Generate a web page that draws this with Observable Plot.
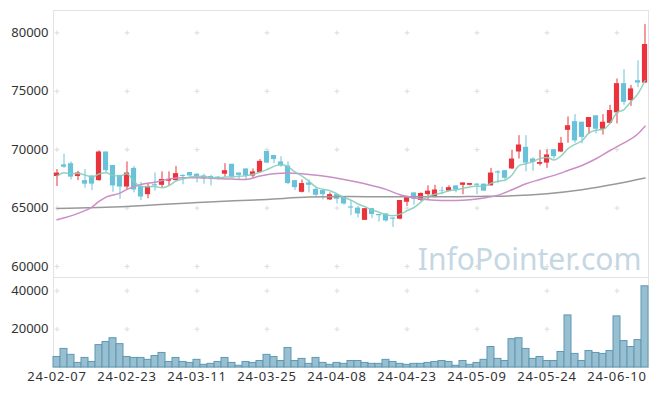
<!DOCTYPE html>
<html>
<head>
<meta charset="utf-8">
<script src="https://cdn.jsdelivr.net/npm/d3@7"></script>
<script src="https://cdn.jsdelivr.net/npm/@observablehq/plot@0.6"></script>
<style>
  html, body { margin: 0; padding: 0; background: #fff; }
  #chart svg { display: block; }
  #chart g[aria-label="x-axis tick label"] text { letter-spacing: 0.8px; }
</style>
</head>
<body>
<div id="chart"></div>
<script>
// trading dates (YY-MM-DD)
const dates = ("24-02-07 24-02-08 24-02-13 24-02-14 24-02-15 24-02-16 24-02-19 24-02-20 24-02-21 24-02-22 " +
  "24-02-23 24-02-26 24-02-27 24-02-28 24-02-29 24-03-04 24-03-05 24-03-06 24-03-07 24-03-08 " +
  "24-03-11 24-03-12 24-03-13 24-03-14 24-03-15 24-03-18 24-03-19 24-03-20 24-03-21 24-03-22 " +
  "24-03-25 24-03-26 24-03-27 24-03-28 24-03-29 24-04-01 24-04-02 24-04-03 24-04-04 24-04-05 " +
  "24-04-08 24-04-09 24-04-11 24-04-12 24-04-15 24-04-16 24-04-17 24-04-18 24-04-19 24-04-22 " +
  "24-04-23 24-04-24 24-04-25 24-04-26 24-04-29 24-04-30 24-05-02 24-05-03 24-05-07 24-05-08 " +
  "24-05-09 24-05-10 24-05-13 24-05-14 24-05-16 24-05-17 24-05-20 24-05-21 24-05-22 24-05-23 " +
  "24-05-24 24-05-27 24-05-28 24-05-29 24-05-30 24-05-31 24-06-03 24-06-04 24-06-05 24-06-07 " +
  "24-06-10 24-06-11 24-06-12 24-06-13 24-06-14").split(" ");

const open = [67700,68700,68800,67700,67350,67750,67350,69800,68650,67800,
  66800,68400,66850,66150,67000,66950,67300,67350,67800,68050,
  67900,67750,67700,67650,67900,68750,68000,68350,67750,68050,
  69850,69500,68950,68600,67350,66350,67150,66600,66500,65700,
  66150,65950,65100,65000,63950,64950,64450,64500,64150,64050,
  65500,66300,65650,66150,65900,66500,66450,66900,66950,66950,
  67050,67050,66900,68100,68200,68350,69800,70200,69200,68750,
  68850,70000,69800,71650,72400,72350,71900,72900,71750,72250,
  73150,75650,74200,75900,75700];
const high = [68300,69600,68950,68150,68300,67750,69900,69800,68650,67800,
  68950,68550,67200,67100,68000,68100,68100,68550,67850,68050,
  67950,67900,67800,67700,68800,68750,68000,68350,68350,69150,
  69850,69500,69400,68950,67350,67400,67400,66800,66500,66300,
  66150,65950,65650,65150,64950,64950,64450,64500,64150,65650,
  66000,66300,66300,66900,66950,66800,66900,66900,67150,67100,
  67100,67050,68400,68200,68200,69950,71200,71200,69300,69950,
  69950,70000,71050,72800,73000,72350,72750,72900,73000,73800,
  76050,76850,75500,77600,80700];
const low = [66850,68400,67400,67350,66700,66500,67300,68000,66350,65750,
  66500,66300,65650,65800,66450,66750,66900,67350,67000,67650,
  67150,67050,66900,67400,67650,67550,67350,67400,67500,68000,
  68800,68800,68500,67000,66500,66300,66300,65900,65700,65650,
  65350,65250,64350,64150,63950,64100,63800,63800,63350,64000,
  65150,65250,65550,65700,65900,66150,66400,66300,66150,66900,
  66150,66450,66900,67100,67400,68300,69200,68100,68150,68600,
  68400,69200,69750,70550,70550,70500,71300,71350,71250,72200,
  72200,73800,73700,75300,75700];
const close = [68000,68500,67650,68000,67050,67050,69800,68200,66900,66800,
  68000,66550,65950,66850,66900,67450,67450,67950,67700,67750,
  67650,67500,67500,67450,68200,67650,67800,67750,68100,69000,
  68850,69150,68600,67100,66750,67100,66950,66100,66150,66150,
  65750,65350,65000,64500,64950,64450,64350,63900,64050,65650,
  65900,65750,66250,66450,66550,66450,66750,66550,67150,67100,
  66950,66450,68000,68000,67550,69200,70400,68850,68900,68900,
  69550,69400,70550,72050,70750,71050,72750,71750,72350,73350,
  75650,74050,75200,75700,79000];
const volume = [5500,9700,6600,2400,5000,2900,11700,13300,15300,12200,
  5500,5000,5000,4000,6000,7600,2900,5000,2900,2400,
  4000,1400,1900,2900,5000,2400,900,2900,2400,3400,
  6600,5500,3400,10200,3400,4500,1900,5000,2400,1400,
  2400,1900,3400,3400,2400,1900,1900,4000,2900,1900,
  1400,1900,1900,2400,2900,3400,2900,900,3400,1400,
  2400,4000,10700,4500,3400,14800,15300,9700,4500,5500,
  3400,3400,8100,27200,7100,3400,8600,7600,7100,8600,
  26700,13800,10700,14300,42400];

// moving averages
const ma5 = [67740,68020,67950,67950,67840,67650,67910,68020,67800,67750,
  67940,67290,66840,66830,66850,66740,66920,67320,67490,67660,
  67700,67710,67620,67570,67660,67660,67720,67770,67900,68060,
  68300,68570,68740,68540,68090,67740,67300,66800,66610,66490,
  66220,65900,65680,65350,65110,64850,64650,64430,64340,64480,
  64770,65050,65520,66000,66180,66290,66490,66550,66690,66800,
  66900,66840,67130,67300,67390,67840,68630,68800,68980,69250,
  69320,69120,69460,70090,70460,70760,71430,71670,71730,72250,
  73170,73430,74120,74790,75920];
const ma20Idx = [0,3,5,6,7,9,10,12,14,16,18,20,22,25,27,29,31,33,35,38,41,44,47,49,51,53,55,57,59,61,63,65,67,69,71,73,75,77,79,81,83,84];
const ma20Val = [64000,64550,65085,65570,65940,66280,66600,67020,67220,67500,67590,67590,67560,67480,67450,67740,67940,68000,67940,67740,67450,67080,66600,66140,65880,65710,65660,65660,65710,65860,66110,66570,67080,67450,67800,68220,68650,69220,69930,70580,71360,72010];
const ma60Idx = [0,10,21,30,36,42,48,55,60,65,70,75,80,84];
const ma60Val = [64970,65140,65510,65740,65940,66000,65960,65960,66000,66050,66230,66570,67080,67570];

const priceTicks = [60000,65000,70000,75000,80000];
const volTicks = [20000,40000];
const xTickIdx = [0,10,20,30,40,50,60,70,80];

const UP = "#e9343d", DOWN = "#69c2d9";
const bars = dates.map((d, i) => ({i, date: d, o: open[i], h: high[i], l: low[i], c: close[i], v: volume[i], ma5: ma5[i]}));
const col = d => d.c >= d.o ? UP : DOWN;
const ma20 = ma20Idx.map((i, k) => ({i, v: ma20Val[k]}));
const ma60 = ma60Idx.map((i, k) => ({i, v: ma60Val[k]}));
const gridPrice = xTickIdx.flatMap(i => priceTicks.map(p => ({i, p})));
const gridVol = xTickIdx.flatMap(i => volTicks.map(p => ({i, p})));

const FONT = "'Noto Sans', sans-serif";
const xDomain = [-0.5, dates.length - 0.5];

const price = Plot.plot({
  width: 657, height: 277,
  marginTop: 10, marginBottom: 0, marginLeft: 53, marginRight: 9,
  style: {fontFamily: FONT, fontSize: "13px", color: "#333", background: "transparent"},
  x: {domain: xDomain, axis: null},
  y: {domain: [59060, 81910], axis: null},
  marks: [
    Plot.frame({stroke: "#e2e2e2"}),
    Plot.dot(gridPrice, {x: "i", y: "p", symbol: "plus", r: 1.7, stroke: "#dcdcdc", strokeWidth: 1}),
    Plot.axisY({ticks: priceTicks, tickSize: 0, tickPadding: 5, fontSize: 13, fill: "#333", label: null, tickFormat: d => String(d)}),
    Plot.text(["InfoPointer.com"], {frameAnchor: "bottom-right", dx: -7, dy: -8, lineAnchor: "bottom", fontSize: 30, fill: "#c4d7e3", fontFamily: FONT}),
    Plot.ruleX(bars, {x: "i", y1: "l", y2: "h", stroke: col, strokeWidth: 1}),
    Plot.rect(bars, {x1: d => d.i - 0.37, x2: d => d.i + 0.37, y1: "o", y2: "c", fill: col}),
    Plot.line(ma60, {x: "i", y: "v", stroke: "#999999", strokeWidth: 1.5, curve: "monotone-x"}),
    Plot.line(ma20, {x: "i", y: "v", stroke: "#cc8ec6", strokeWidth: 1.5, curve: "monotone-x"}),
    Plot.line(bars, {x: "i", y: "ma5", stroke: "#86cdb9", strokeWidth: 1.5, strokeOpacity: 0.9, curve: "monotone-x"})
  ]
});

const vol = Plot.plot({
  width: 657, height: 119,
  marginTop: 0, marginBottom: 29, marginLeft: 53, marginRight: 9,
  style: {fontFamily: FONT, fontSize: "13px", color: "#333", background: "transparent"},
  x: {domain: xDomain, axis: null},
  y: {domain: [0, 47000], axis: null},
  marks: [
    Plot.frame({stroke: "#e2e2e2"}),
    Plot.dot(gridVol, {x: "i", y: "p", symbol: "plus", r: 1.7, stroke: "#dcdcdc", strokeWidth: 1}),
    Plot.rectY(bars, {x1: d => d.i - 0.5, x2: d => d.i + 0.5, y: "v", fill: "#97bfd0", stroke: "#5f98b4", strokeWidth: 1}),
    Plot.axisY({ticks: volTicks, tickSize: 0, tickPadding: 5, fontSize: 13, fill: "#333", label: null, tickFormat: d => String(d)}),
    Plot.axisX({ticks: xTickIdx, tickSize: 0, tickPadding: 4, fontSize: 13, fill: "#333", label: null, tickFormat: i => dates[i]})
  ]
});

document.getElementById("chart").append(price, vol);
</script>
</body>
</html>
